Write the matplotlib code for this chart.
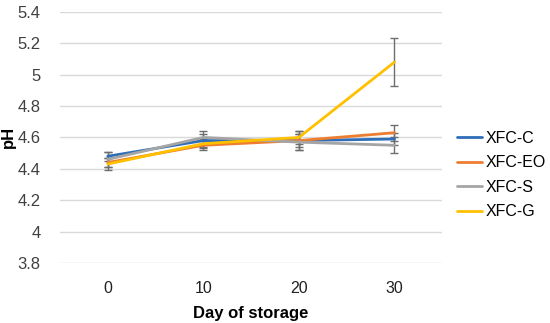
import matplotlib
matplotlib.use("Agg")
import matplotlib.pyplot as plt
import numpy as np

# ----------------------------------------
# DATA
# ----------------------------------------
days = ["0", "10", "20", "30"]
series_names = ["XFC-C", "XFC-EO", "XFC-S", "XFC-G"]

ph_c = [4.48, 4.58, 4.58, 4.59]
ph_eo = [4.44, 4.55, 4.58, 4.63]
ph_s = [4.46, 4.60, 4.57, 4.55]
ph_g = [4.43, 4.56, 4.60, 5.08]

err_c = [0.03, 0.04, 0.06, 0.04]
err_eo = [0.03, 0.03, 0.04, 0.05]
err_s = [0.05, 0.04, 0.05, 0.05]
err_g = [0.04, 0.03, 0.04, 0.155]

colors = ["#2E6DB8", "#ED7D31", "#A5A5A5", "#FFC000"]

# ----------------------------------------
# PLOT
# ----------------------------------------
plt.rcParams["font.family"] = ["Liberation Sans", "DejaVu Sans"]

fig = plt.figure(figsize=(5.5, 3.23), dpi=100)
ax = fig.add_axes([0.109, 0.186, 0.695, 0.777])

x = np.arange(len(days))
all_vals = [ph_c, ph_eo, ph_s, ph_g]
all_errs = [err_c, err_eo, err_s, err_g]

for name, vals, errs, col in zip(series_names, all_vals, all_errs, colors):
    ax.errorbar(x, vals, yerr=errs, fmt="none", ecolor="#6E6E6E",
                elinewidth=1, capsize=3, capthick=1, zorder=2)
for name, vals, col in zip(series_names, all_vals, colors):
    ax.plot(x, vals, color=col, lw=2.0, label=name, zorder=3,
            solid_capstyle="round")

ax.set_xlim(-0.5, 3.5)
ax.set_ylim(3.8, 5.4)
ax.set_yticks(np.arange(3.8, 5.41, 0.2))
ax.set_yticklabels(["3.8", "4", "4.2", "4.4", "4.6", "4.8", "5", "5.2", "5.4"])
ax.set_xticks(x)
ax.set_xticklabels(days)

ax.grid(axis="y", color="#D9D9D9", lw=1)
ax.set_axisbelow(True)
for s in ax.spines.values():
    s.set_visible(False)
ax.tick_params(axis="y", length=0, pad=14, labelsize=12, labelcolor="#404040")
ax.tick_params(axis="x", length=0, pad=13, labelsize=11.5, labelcolor="#202020")

ax.set_ylabel("pH", fontsize=12, fontweight="bold", labelpad=1)
ax.set_xlabel("Day of storage", fontsize=12, fontweight="bold", labelpad=7)

ax.legend(loc="center left", bbox_to_anchor=(1.0, 0.35), frameon=False,
          fontsize=11.5, handlelength=1.6, handletextpad=0.2,
          labelspacing=0.6, borderaxespad=0.5)

fig.savefig("out.png", dpi=100)
